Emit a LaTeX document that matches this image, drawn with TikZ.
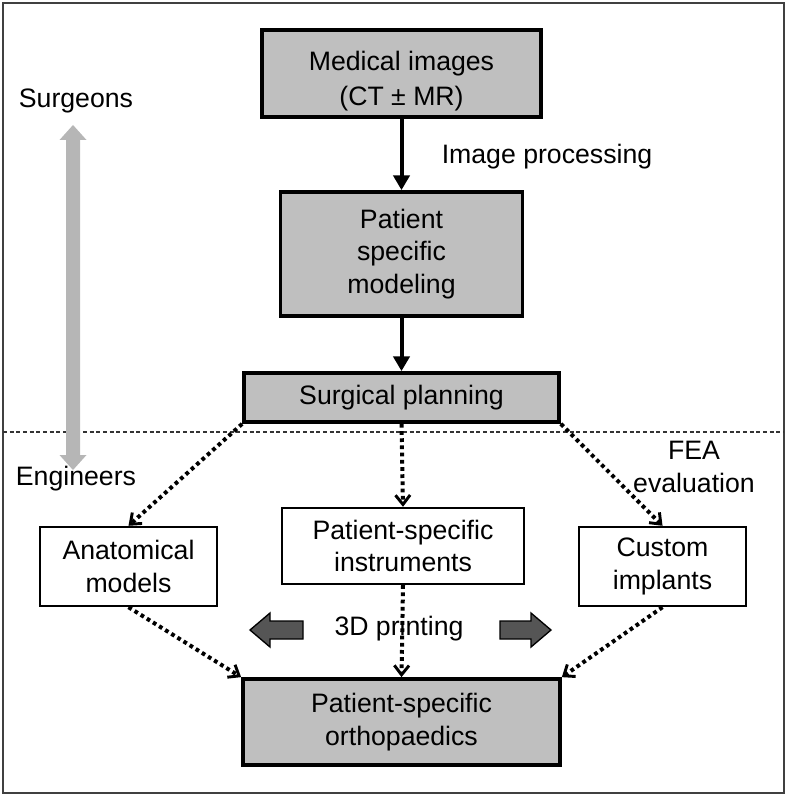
\documentclass[tikz,border=0pt]{standalone}
\usepackage{fontspec}
\setmainfont{Liberation Sans}
\usetikzlibrary{arrows.meta}
\definecolor{boxgray}{RGB}{191,191,191}
\definecolor{sidegray}{RGB}{182,182,182}
\definecolor{blockgray}{RGB}{85,85,85}
\tikzset{
  every node/.style={font=\fontsize{20}{24.5}\selectfont, align=center, inner sep=0pt},
  graybox/.style={draw=black, line width=2.8pt, fill=boxgray},
  whitebox/.style={draw=black, line width=1.8pt, fill=white},
  solidarrow/.style={line width=3pt, -{Triangle[length=11pt,width=12pt]}},
  dotarrow/.style={line width=3pt, dash pattern=on 2.8pt off 2.6pt, -{Straight Barb[length=7pt,width=11pt,line width=2.2pt]}},
  lbl/.style={},
}
\begin{document}
\begin{tikzpicture}[x=0.75pt,y=-0.75pt]
\useasboundingbox (0,0) rectangle (786,795);
% outer frame
\draw[line width=1.4pt, black!75] (3,3) rectangle (784,793);
% dashed separator
\draw[line width=1.4pt, dash pattern=on 3pt off 2pt, black!80] (3,432) -- (784,432);
% gray double arrow (surgeons/engineers)
\fill[sidegray] (73,125) -- (86.5,140) -- (80,140) -- (80,455) -- (86.5,455) -- (73,470)
  -- (59.5,455) -- (66,455) -- (66,140) -- (59.5,140) -- cycle;
% boxes
\node[graybox, minimum width=209.25pt, minimum height=65.25pt] (mi) at (401.5,73.5) {};
\node[lbl, font=\fontsize{20}{26}\selectfont] (mitext) at (401.5,81) {Medical images\\(CT ± MR)};
\node[graybox, minimum width=181.5pt, minimum height=93pt] (psm) at (401.5,254) {Patient\\specific\\modeling};
\node[graybox, minimum width=236.25pt, minimum height=36.75pt] (sp) at (401.5,397.5) {Surgical planning};
\node[whitebox, minimum width=132.75pt, minimum height=59.25pt] (am) at (128.5,566.5) {Anatomical\\models};
\node[whitebox, minimum width=181.5pt, minimum height=57pt] (psi) at (403,546) {Patient-specific\\instruments};
\node[whitebox, minimum width=125.25pt, minimum height=59.25pt] (ci) at (662.5,566.5) {Custom\\implants};
\node[graybox, minimum width=237.75pt, minimum height=64.5pt] (pso) at (401.5,722) {Patient-specific\\orthopaedics};
% labels
\node[lbl] (surg) at (76,101) {Surgeons};
\node[lbl] (eng) at (76,479) {Engineers};
\node[lbl] (imp) at (547,157) {Image processing};
\node[lbl] (fea) at (694,467) {FEA\\evaluation};
\node[lbl] (print) at (399,629) {3D printing};
% solid arrows
\draw[solidarrow] (mi.south) -- (psm.north);
\draw[solidarrow] (psm.south) -- (sp.north);
% dotted arrows
\draw[dotarrow] (sp.south west) -- (am.north);
\draw[dotarrow] (sp.south) -- (psi.north);
\draw[dotarrow] (sp.south east) -- (ci.north);
\draw[dotarrow] (am.south) -- (pso.north west);
\draw[dotarrow] (psi.south) -- (pso.north);
\draw[dotarrow] (ci.south) -- (pso.north east);
% block arrows
\draw[fill=blockgray, line width=1pt, line join=miter] (250,630) -- (270,613) -- (270,621) -- (303,621) -- (303,639) -- (270,639) -- (270,647) -- cycle;
\draw[fill=blockgray, line width=1pt, line join=miter] (551,630) -- (531,613) -- (531,621) -- (500,621) -- (500,639) -- (531,639) -- (531,647) -- cycle;
\end{tikzpicture}
\end{document}
